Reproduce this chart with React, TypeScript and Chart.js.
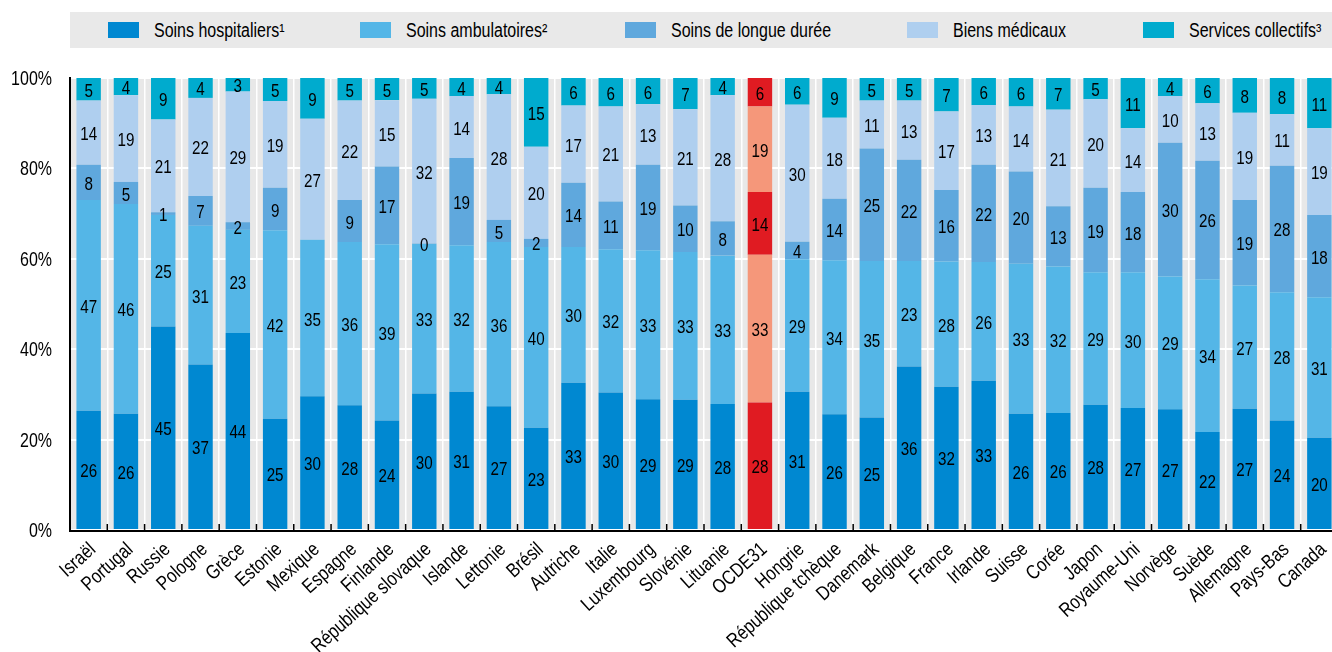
import React, { useEffect, useRef } from "react";
import { Chart, registerables } from "chart.js";

Chart.register(...registerables);

const categories = [
  "Israël", "Portugal", "Russie", "Pologne", "Grèce", "Estonie", "Mexique", "Espagne", "Finlande",
  "République slovaque", "Islande", "Lettonie", "Brésil", "Autriche", "Italie", "Luxembourg", "Slovénie",
  "Lituanie", "OCDE31", "Hongrie", "République tchèque", "Danemark", "Belgique", "France", "Irlande",
  "Suisse", "Corée", "Japon", "Royaume-Uni", "Norvège", "Suède", "Allemagne", "Pays-Bas", "Canada",
];

const hospitalCare = [
  26.4, 25.7, 45.0, 36.6, 43.6, 24.6, 29.6, 27.6, 24.2, 30.2, 30.6, 27.4, 22.6, 32.6, 30.4, 28.9, 28.8,
  27.9, 28.2, 30.6, 25.6, 24.9, 36.2, 31.7, 33.0, 25.7, 25.9, 27.7, 27.0, 26.7, 21.7, 26.8, 24.2, 20.4,
];
const ambulatoryCare = [
  46.6, 46.4, 24.7, 30.7, 22.8, 41.7, 34.6, 36.1, 39.0, 33.1, 32.4, 36.3, 40.0, 30.0, 31.7, 33.0, 32.7,
  32.8, 32.7, 29.3, 34.1, 34.6, 23.3, 27.7, 26.3, 33.2, 32.4, 29.3, 30.0, 29.4, 33.8, 27.3, 28.4, 31.1,
];
const longTermCare = [
  7.8, 4.9, 0.6, 6.6, 1.7, 9.4, null, 9.3, 17.2, 0.1, 19.3, 4.9, 1.8, 14.2, 10.6, 18.9, 10.3,
  7.6, 13.9, 3.9, 13.6, 24.9, 22.4, 15.8, 21.5, 20.4, 13.3, 18.7, 17.8, 29.6, 26.2, 18.9, 28.0, 18.2,
];
const medicalGoods = [
  14.2, 19.2, 20.5, 21.7, 28.9, 19.2, 26.8, 22.0, 14.7, 32.0, 13.7, 27.8, 20.4, 17.1, 21.0, 13.4, 21.3,
  27.9, 18.9, 30.3, 17.9, 10.6, 13.1, 17.4, 13.2, 14.4, 21.4, 19.6, 14.1, 10.3, 12.7, 19.3, 11.4, 19.2,
];
const collectiveServices = [
  5.0, 3.8, 9.2, 4.4, 3.0, 5.1, 9.0, 5.0, 4.9, 4.6, 4.0, 3.6, 15.2, 6.1, 6.3, 5.8, 6.9,
  3.8, 6.3, 5.9, 8.8, 5.0, 5.0, 7.4, 6.0, 6.3, 7.0, 4.7, 11.1, 4.0, 5.6, 7.7, 8.0, 11.1,
];

const seriesNames = [
  "Soins hospitaliers¹",
  "Soins ambulatoires²",
  "Soins de longue durée",
  "Biens médicaux",
  "Services collectifs³",
];
const seriesColors = ["#0088D1", "#54B6E7", "#5FA8DD", "#AFCFEF", "#00ABCE"];
const highlightColors = ["#E01B22", "#F5977A", "#E01B22", "#F5977A", "#E01B22"];
const highlightCategory = "OCDE31";

const yTicks = [0, 20, 40, 60, 80, 100];

const FONT = '"Liberation Sans", Arial, sans-serif';
const NARROW = 0.82;
const PLOT_BG = "#E8E8E8";
const LABEL_ANGLE = (-42 * Math.PI) / 180;

function drawNarrow(
  ctx: CanvasRenderingContext2D,
  text: string,
  x: number,
  y: number,
  size: number,
  align: CanvasTextAlign,
  rot = 0
) {
  ctx.save();
  ctx.translate(x, y);
  if (rot) ctx.rotate(rot);
  ctx.scale(NARROW, 1);
  ctx.font = `${size}px ${FONT}`;
  ctx.textAlign = align;
  ctx.textBaseline = "alphabetic";
  ctx.fillStyle = "#000";
  ctx.fillText(text, 0, 0);
  ctx.restore();
}

const backgroundPlugin = {
  id: "plotBackground",
  beforeDraw(chart: any) {
    const { ctx, chartArea } = chart;
    if (!chartArea) return;
    ctx.save();
    ctx.fillStyle = PLOT_BG;
    ctx.fillRect(chartArea.left, chartArea.top, chartArea.right - chartArea.left, chartArea.bottom - chartArea.top);
    ctx.restore();
  },
};

const axesPlugin = {
  id: "axesAndLabels",
  afterDatasetsDraw(chart: any) {
    const { ctx, chartArea } = chart;
    const xScale = chart.scales.x;
    const yScale = chart.scales.y;
    // value labels inside the segments
    chart.data.datasets.forEach((ds: any, di: number) => {
      const meta = chart.getDatasetMeta(di);
      meta.data.forEach((el: any, i: number) => {
        const v = ds.data[i];
        if (v === null || v === undefined) return;
        const p = el.getProps(["x", "y", "base"], true);
        drawNarrow(ctx, String(Math.round(v)), p.x, (p.y + p.base) / 2 + 7.5, 18.5, "center");
      });
    });
    ctx.save();
    // axis lines
    ctx.strokeStyle = "#000";
    ctx.lineWidth = 2;
    ctx.beginPath();
    ctx.moveTo(chartArea.left, chartArea.top - 1);
    ctx.lineTo(chartArea.left, chartArea.bottom + 1);
    ctx.lineTo(chartArea.right, chartArea.bottom + 1);
    ctx.stroke();
    // tick marks at category boundaries, pointing inward
    ctx.lineWidth = 1.5;
    ctx.beginPath();
    for (let i = 1; i < categories.length; i++) {
      const x = (xScale.getPixelForValue(i - 1) + xScale.getPixelForValue(i)) / 2;
      ctx.moveTo(x, chartArea.bottom);
      ctx.lineTo(x, chartArea.bottom - 6);
    }
    ctx.stroke();
    ctx.restore();
    // y tick labels
    yTicks.forEach((v) => {
      drawNarrow(ctx, `${v}%`, chartArea.left - 18, yScale.getPixelForValue(v) + 7, 19.5, "right");
    });
    // x tick labels (rotated)
    categories.forEach((c, i) => {
      const x = xScale.getPixelForValue(i);
      drawNarrow(ctx, c, x + 8, chartArea.bottom + 21, 20, "right", LABEL_ANGLE);
    });
  },
};

export default function App() {
  const canvasRef = useRef<HTMLCanvasElement | null>(null);

  useEffect(() => {
    if (!canvasRef.current) return;
    const seriesData = [hospitalCare, ambulatoryCare, longTermCare, medicalGoods, collectiveServices];
    const hi = categories.indexOf(highlightCategory);
    const chart = new Chart(canvasRef.current, {
      type: "bar",
      data: {
        labels: categories,
        datasets: seriesNames.map((name, si) => ({
          label: name,
          data: seriesData[si] as any,
          backgroundColor: categories.map((_, i) => (i === hi ? highlightColors[si] : seriesColors[si])),
          borderWidth: 0,
          categoryPercentage: 1,
          barPercentage: 0.655,
        })),
      },
      options: {
        animation: false,
        responsive: true,
        maintainAspectRatio: false,
        layout: { padding: { top: 78, left: 0, right: 0, bottom: 0 } },
        plugins: {
          legend: { display: false },
          tooltip: { enabled: false },
        },
        scales: {
          x: {
            stacked: true,
            offset: true,
            grid: { color: "#FFFFFF", lineWidth: 1.5, offset: true, drawTicks: false },
            border: { display: false },
            ticks: { display: false, autoSkip: false },
            afterFit(scale: any) {
              scale.height = 122;
            },
          },
          y: {
            stacked: true,
            min: 0,
            max: 100,
            afterBuildTicks(scale: any) {
              scale.ticks = yTicks.map((v) => ({ value: v }));
            },
            grid: { color: "#FFFFFF", lineWidth: 2, drawTicks: false },
            border: { display: false },
            ticks: { display: false },
            afterFit(scale: any) {
              scale.width = 70;
            },
          },
        },
      },
      plugins: [backgroundPlugin, axesPlugin],
    });
    return () => chart.destroy();
  }, []);

  const legendLefts = [108, 360, 625, 907, 1143];

  return (
    <div style={{ position: "absolute", left: 0, top: 0, width: 1332, height: 652, overflow: "hidden", background: "#fff" }}>
      <div style={{ position: "absolute", left: 0, top: 0, width: 1338, height: 652 }}>
        <canvas ref={canvasRef} />
      </div>
      <div
        style={{
          position: "absolute",
          left: 70,
          top: 12,
          width: 1262,
          height: 36,
          background: "#E9E9E9",
          fontFamily: FONT,
          fontSize: 19.5,
          color: "#000",
        }}
      >
        {seriesNames.map((name, i) => (
          <div
            key={name}
            style={{ position: "absolute", left: legendLefts[i] - 70, top: 0, height: 36, display: "flex", alignItems: "center", whiteSpace: "nowrap" }}
          >
            <span style={{ display: "inline-block", width: 31, height: 16, background: seriesColors[i], marginRight: 15 }} />
            <span style={{ display: "inline-block", transform: `scaleX(${NARROW})`, transformOrigin: "left center" }}>{name}</span>
          </div>
        ))}
      </div>
    </div>
  );
}
